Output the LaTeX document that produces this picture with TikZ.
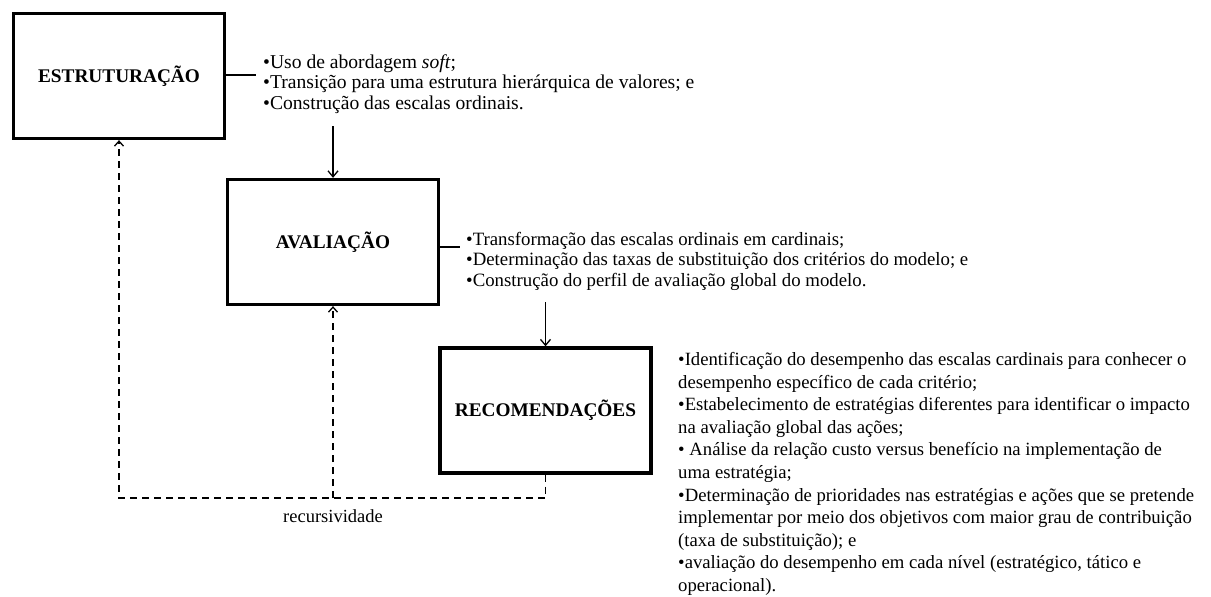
\documentclass[tikz,border=0pt]{standalone}
\usepackage{fontspec}
\setmainfont{Liberation Serif}
\usepackage{tikz}
\usetikzlibrary{arrows.meta}

\tikzset{
  stage/.style={draw, line width=3.3pt, minimum width=211pt, minimum height=125pt,
    inner sep=0pt, font=\bfseries\fontsize{19.3}{22}\selectfont},
  note/.style={align=left, anchor=west, inner sep=0pt,
    font=\fontsize{18.8}{20.5}\selectfont},
  longnote/.style={note, font=\fontsize{18.7}{22.6}\selectfont},
  flow/.style={line width=1.3pt, -{Straight Barb[length=6pt,width=10pt,line width=1.3pt]}},
  back/.style={line width=1.8pt, dash pattern=on 7pt off 5pt,
    -{Straight Barb[length=5pt,width=9pt,line width=1.3pt]}},
}

\begin{document}
\begin{tikzpicture}[x=1pt,y=1pt]
    \useasboundingbox (0,0) rectangle (1211,-597);

    % Draw the three stages
    \node[stage] (estr) at (119,-76) {ESTRUTURAÇÃO};
    \node[stage] (aval) at (333,-242) {AVALIAÇÃO};
    \node[stage] (reco) at (545.5,-410.5) {RECOMENDAÇÕES};

    % Notes beside each stage
    \node[note, font=\fontsize{19.6}{20.5}\selectfont] (estrtxt) at (263,-84) {•Uso de abordagem \textit{soft};\\
        •Transição para uma estrutura hierárquica de valores; e\\
        •Construção das escalas ordinais.};
    \node[note] (avaltxt) at (466,-261) {•Transformação das escalas ordinais em cardinais;\\
        •Determinação das taxas de substituição dos critérios do modelo; e\\
        •Construção do perfil de avaliação global do modelo.};
    \node[longnote] (recotxt) at (678,-474) {•Identificação do desempenho das escalas cardinais para conhecer o\\
        desempenho específico de cada critério;\\
        •Estabelecimento de estratégias diferentes para identificar o impacto\\
        na avaliação global das ações;\\
        • Análise da relação custo versus benefício na implementação de\\
        uma estratégia;\\
        •Determinação de prioridades nas estratégias e ações que se pretende\\
        implementar por meio dos objetivos com maior grau de contribuição\\
        (taxa de substituição); e\\
        •avaliação do desempenho em cada nível (estratégico, tático e\\
        operacional).};

    % Short lines from stage to note
    \coordinate (e1) at (256,-75);
    \coordinate (a1) at (460,-247);
    \draw[line width=1.3pt] (estr.east |- e1) -- (e1);
    \draw[line width=1.3pt] (aval.east |- a1) -- (a1);

    % Arrows down to the next stage
    \coordinate (e2) at (333,-126);
    \coordinate (a2) at (545.5,-302);
    \draw[flow] (e2) -- (aval.north);
    \draw[flow] (a2) -- (reco.north);

    % Dashed feedback loop
    \coordinate (r1) at (545.5,-498);
    \coordinate (r2) at (333,-498);
    \coordinate (r3) at (119,-498);
    \draw[back] (reco.south) -- (r1) -- (r3) -- (estr.south);
    \draw[back] (r2) -- (aval.south);
    \node[font=\fontsize{18.5}{20}\selectfont] (rec) at (333,-516) {recursividade};
\end{tikzpicture}
\end{document}
